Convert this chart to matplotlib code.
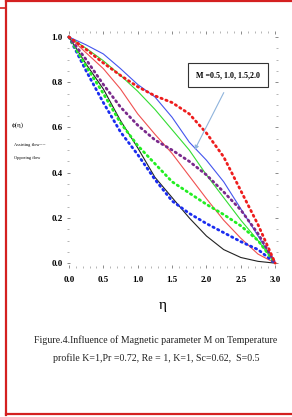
import matplotlib.pyplot as plt
from matplotlib.ticker import MultipleLocator

# eta grid and temperature profiles
eta = [0.0, 0.25, 0.5, 0.75, 1.0, 1.25, 1.5, 1.75, 2.0, 2.25, 2.5, 2.75, 3.0]

# assisting flow (dotted)
red_dot = [1.0, 0.945, 0.885, 0.83, 0.78, 0.74, 0.71, 0.66, 0.575, 0.47, 0.32, 0.17, 0.0]
purple_dot = [1.0, 0.90, 0.79, 0.69, 0.61, 0.545, 0.50, 0.45, 0.39, 0.315, 0.235, 0.13, 0.0]
green_dot = [1.0, 0.87, 0.75, 0.62, 0.52, 0.44, 0.36, 0.31, 0.26, 0.215, 0.165, 0.10, 0.0]
blue_dot = [1.0, 0.85, 0.71, 0.58, 0.48, 0.37, 0.275, 0.22, 0.175, 0.135, 0.095, 0.06, 0.0]

# opposing flow (solid)
blue_solid = [1.0, 0.965, 0.925, 0.86, 0.79, 0.735, 0.645, 0.535, 0.455, 0.36, 0.24, 0.12, 0.0]
green_solid = [1.0, 0.95, 0.895, 0.83, 0.76, 0.68, 0.59, 0.50, 0.39, 0.29, 0.19, 0.10, 0.0]
red_solid = [1.0, 0.93, 0.86, 0.77, 0.66, 0.57, 0.485, 0.385, 0.285, 0.19, 0.11, 0.04, 0.0]
black_solid = [1.0, 0.88, 0.77, 0.63, 0.51, 0.38, 0.29, 0.20, 0.12, 0.06, 0.025, 0.008, 0.0]

x_ticks = [0.0, 0.5, 1.0, 1.5, 2.0, 2.5, 3.0]
y_ticks = [0.0, 0.2, 0.4, 0.6, 0.8, 1.0]

SERIF = "Liberation Serif"
RED = "#d42020"

fig = plt.figure(figsize=(2.92, 4.17), dpi=100)
ax = fig.add_axes([0.229, 0.357, 0.723, 0.569])

dot_style = dict(linestyle=(0, (0.5, 1.4)), linewidth=2.0, dash_capstyle="round")
ax.plot(eta, black_solid, color="#222222", linewidth=0.8)
ax.plot(eta, red_solid, color="#f05050", linewidth=0.8)
ax.plot(eta, green_solid, color="#33dd33", linewidth=0.8)
ax.plot(eta, blue_solid, color="#4455ee", linewidth=0.8)
ax.plot(eta, blue_dot, color="#1a2cf0", **dot_style)
ax.plot(eta, green_dot, color="#22ee22", **dot_style)
ax.plot(eta, purple_dot, color="#7a2a8c", **dot_style)
ax.plot(eta, red_dot, color="#ee1c1c", **dot_style)

ax.set_xlim(-0.03, 3.04)
ax.set_ylim(-0.022, 1.027)
ax.set_xticks(x_ticks)
ax.set_yticks(y_ticks)
ax.set_xticklabels([f"{v:.1f}" for v in x_ticks], fontfamily=SERIF, fontsize=6.5, fontweight="bold")
ax.set_yticklabels([f"{v:.1f}" for v in y_ticks], fontfamily=SERIF, fontsize=6.5, fontweight="bold")
ax.xaxis.set_minor_locator(MultipleLocator(0.1))
ax.yaxis.set_minor_locator(MultipleLocator(0.05))
ax.tick_params(which="major", direction="in", length=2.5, width=0.6, color="#777777",
               top=True, right=True, pad=3)
ax.tick_params(axis="x", which="major", pad=6)
ax.tick_params(which="minor", direction="in", length=1.2, width=0.5, color="#999999",
               top=True, right=True)
for sp in ax.spines.values():
    sp.set_visible(False)

ax.annotate("", xy=(1.81, 0.49), xytext=(2.27, 0.765),
            arrowprops=dict(arrowstyle="-|>", color="#8fb4dc", lw=0.8, mutation_scale=6))
ax.text(2.31, 0.83, "M =0.5, 1.0, 1.5,2.0", fontfamily=SERIF, fontsize=5.8, fontweight="bold",
        ha="center", va="center",
        bbox=dict(boxstyle="square,pad=1.0", facecolor="white", edgecolor="#333333", linewidth=0.8))

fig.text(18 / 292, 1 - 125 / 417, "ϕ(η)", fontfamily=SERIF, fontsize=5, ha="center", va="center")
fig.text(14 / 292, 1 - 145 / 417, "Assisting flow----", fontfamily=SERIF, fontsize=3.2, va="center")
fig.text(14 / 292, 1 - 158 / 417, "Opposing flow", fontfamily=SERIF, fontsize=3.2, va="center")
fig.text(163 / 292, 1 - 305 / 417, "η", fontfamily=SERIF, fontsize=11, ha="center", va="center")
fig.text(156 / 292, 1 - 340 / 417, "Figure.4.Influence of Magnetic parameter M on Temperature",
         fontfamily=SERIF, fontsize=7.1, ha="center", va="center", color="#222222")
fig.text(156 / 292, 1 - 358 / 417, "profile K=1,Pr =0.72, Re = 1, K=1, Sc=0.62,  S=0.5",
         fontfamily=SERIF, fontsize=7.1, ha="center", va="center", color="#222222")

# red page frame
fig.add_artist(plt.Line2D([6 / 292, 1], [1 - 1 / 417, 1 - 1 / 417], color=RED, lw=1.6))
fig.add_artist(plt.Line2D([0, 6 / 292], [1 - 8 / 417, 1 - 8 / 417], color=RED, lw=1.2))
fig.add_artist(plt.Line2D([6 / 292, 6 / 292], [1 - 415 / 417, 1], color=RED, lw=1.6))
fig.add_artist(plt.Line2D([6 / 292, 1], [1 - 414 / 417, 1 - 414 / 417], color=RED, lw=1.6))

fig.savefig("out.png", dpi=100)
